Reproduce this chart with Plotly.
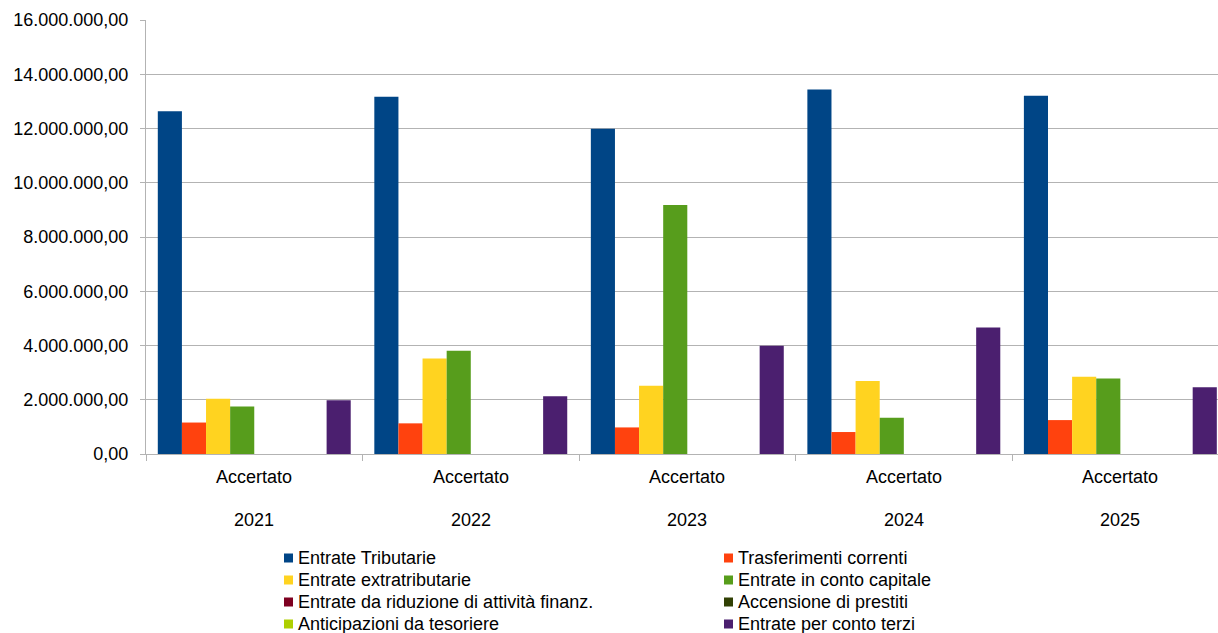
import plotly.graph_objects as go

# Revenue categories by year (values in euro)
anni = ["2021", "2022", "2023", "2024", "2025"]
fase = "Accertato"

entrate_tributarie = [12640000, 13170000, 11990000, 13440000, 13210000]
trasferimenti_correnti = [1160000, 1130000, 980000, 810000, 1250000]
entrate_extratributarie = [2040000, 3520000, 2520000, 2690000, 2850000]
entrate_conto_capitale = [1750000, 3810000, 9180000, 1340000, 2780000]
riduzione_attivita_finanz = [0, 0, 0, 0, 0]
accensione_prestiti = [0, 0, 0, 0, 0]
anticipazioni_tesoriere = [0, 0, 0, 0, 0]
entrate_conto_terzi = [1980000, 2130000, 3990000, 4660000, 2460000]

serie = [
    ("Entrate Tributarie", entrate_tributarie, "#004586"),
    ("Trasferimenti correnti", trasferimenti_correnti, "#ff420e"),
    ("Entrate extratributarie", entrate_extratributarie, "#ffd320"),
    ("Entrate in conto capitale", entrate_conto_capitale, "#579d1c"),
    ("Entrate da riduzione di attività finanz.", riduzione_attivita_finanz, "#7e0021"),
    ("Accensione di prestiti", accensione_prestiti, "#314004"),
    ("Anticipazioni da tesoriere", anticipazioni_tesoriere, "#aecf00"),
    ("Entrate per conto terzi", entrate_conto_terzi, "#4b1f6f"),
]

y_ticks = list(range(0, 16000001, 2000000))


def formato_it(v):
    s = f"{v:,.2f}"
    return s.replace(",", "X").replace(".", ",").replace("X", ".")


W, H = 1218, 633
ML, MR, MT, MB = 146, 0, 20, 179
PW, PH = W - ML - MR, H - MT - MB

x_pos = list(range(len(anni)))

fig = go.Figure()
for nome, valori, colore in serie:
    fig.add_trace(go.Bar(
        x=x_pos, y=valori, name=nome,
        marker=dict(color=colore, line=dict(width=0)),
        showlegend=False,
    ))

FONT = "Liberation Sans, Arial, sans-serif"
TXT = dict(size=18, color="#000000", family=FONT)

annotations = []
for i, anno in enumerate(anni):
    annotations.append(dict(x=i, y=0, xref="x", yref="paper", text=fase,
                            showarrow=False, yanchor="middle", yshift=-23,
                            font=TXT))
    annotations.append(dict(x=i, y=0, xref="x", yref="paper", text=anno,
                            showarrow=False, yanchor="middle", yshift=-66,
                            font=TXT))

# Two-column legend below the plot, filled row by row
shapes = []
col_x = [284, 724]       # left edge of each column's swatch (px)
row_y0 = 558             # centre of first legend row (px)
row_step = 22
sw = 9
for k, (nome, _, colore) in enumerate(serie):
    cx = col_x[k % 2]
    cy = row_y0 + (k // 2) * row_step
    x0 = (cx - ML) / PW
    x1 = (cx + sw - ML) / PW
    y0 = (H - MB - (cy + sw / 2)) / PH
    y1 = (H - MB - (cy - sw / 2)) / PH
    shapes.append(dict(type="rect", xref="paper", yref="paper",
                       x0=x0, x1=x1, y0=y0, y1=y1,
                       fillcolor=colore, line=dict(width=0)))
    annotations.append(dict(x=(cx + sw + 3 - ML) / PW, y=(H - MB - cy) / PH,
                            xref="paper", yref="paper", text=nome,
                            showarrow=False, xanchor="left", yanchor="middle",
                            font=TXT))

fig.update_layout(
    width=W, height=H,
    margin=dict(l=ML, r=MR, t=MT, b=MB, autoexpand=False),
    paper_bgcolor="white", plot_bgcolor="white",
    barmode="group", bargap=0.109, bargroupgap=0,
    font=dict(family=FONT, size=18, color="#000000"),
    xaxis=dict(
        range=[-0.5, 4.451],
        tickvals=[-0.5, 0.5, 1.5, 2.5, 3.5, 4.5],
        ticktext=["", "", "", "", "", ""],
        ticks="outside", ticklen=6, tickcolor="#b3b3b3", tickwidth=1,
        showgrid=False, showline=True, linecolor="#b3b3b3", linewidth=1,
        zeroline=False,
    ),
    yaxis=dict(
        range=[0, 16000000],
        tickvals=y_ticks,
        ticktext=[formato_it(v) for v in y_ticks],
        ticks="outside", ticklen=5, tickcolor="#b3b3b3", tickwidth=1,
        ticklabelstandoff=8,
        showgrid=True, gridcolor="#b3b3b3", gridwidth=1,
        showline=True, linecolor="#b3b3b3", linewidth=1,
        zeroline=False,
        tickfont=dict(size=18, family=FONT, color="#000000"),
    ),
    showlegend=False,
    shapes=shapes,
    annotations=annotations,
)

fig.write_html("out.html")
